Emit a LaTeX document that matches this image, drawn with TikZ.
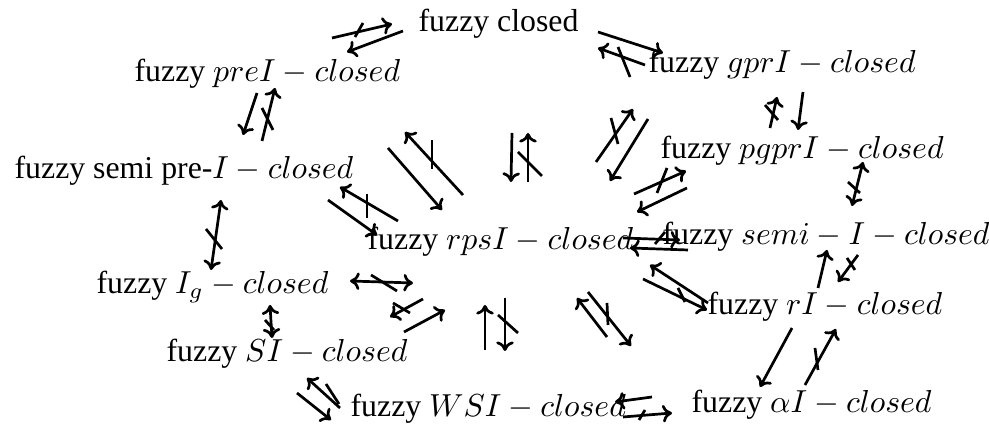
\documentclass[tikz,border=0pt]{standalone}
\usepackage[no-math]{fontspec}
\setmainfont{Liberation Serif}
\usetikzlibrary{arrows.meta}
\tikzset{
  arr/.style={line width=0.85pt,-{To[length=3pt,width=5.5pt]}},
  darr/.style={line width=0.85pt,{To[length=3pt,width=5.5pt]}-{To[length=3pt,width=5.5pt]}},
  nx/.style={line width=0.85pt},
  lbl/.style={anchor=base west,inner sep=0pt,font=\fontsize{10}{12}\selectfont}
}
\begin{document}
\begin{tikzpicture}[x=0.3144pt,y=-0.3144pt]
\useasboundingbox (0,0) rectangle (989,425);
% nodes
\node[lbl] (fc)   at (418,32)  {fuzzy closed};
\node[lbl] (pre)  at (134,82)  {fuzzy $preI-closed$};
\node[lbl] (gpr)  at (648,73)  {fuzzy $gprI-closed$};
\node[lbl] (spre) at (14,179)  {fuzzy semi pre-$I-closed$};
\node[lbl] (pgpr) at (660,159) {fuzzy $pgprI-closed$};
\node[lbl] (rps)  at (367,250) {fuzzy $rpsI-closed$};
\node[lbl] (semi) at (662,245) {fuzzy $semi-I-closed$};
\node[lbl] (ig)   at (96,294)  {fuzzy $I_g-closed$};
\node[lbl] (ri)   at (707,315) {fuzzy $rI-closed$};
\node[lbl] (si)   at (166,362) {fuzzy $SI-closed$};
\node[lbl] (wsi)  at (350,417) {fuzzy $WSI-closed$};
\node[lbl] (ai)   at (691,413) {fuzzy $\alpha I-closed$};
% arrows
% pre <-> closed
\draw[arr] (332,38) -- (392,24);  \draw[nx] (355,37) -- (363,23);
\draw[arr] (403,31) -- (347,52);
% closed <-> gpr
\draw[arr] (598,32) -- (663,53);
\draw[arr] (645,65) -- (598,48);  \draw[nx] (618,47) -- (630,77);
% pre <-> semi pre
\draw[arr] (257,93) -- (243,135);
\draw[arr] (262,141) -- (275,88); \draw[nx] (262,108) -- (273,130);
% semi pre <-> Ig
\draw[darr] (221,200) -- (211,270); \draw[nx] (206,229) -- (222,249);
% semi pre <-> rps
\draw[arr] (398,221) -- (340,187); \draw[nx] (367,194) -- (367,218);
\draw[arr] (328,200) -- (377,235);
% pre <-> rps
\draw[arr] (388,148) -- (442,210);
\draw[arr] (463,195) -- (405,132); \draw[nx] (432,140) -- (432,169);
% closed <-> rps
\draw[arr] (512,133) -- (511,182);
\draw[arr] (528,182) -- (528,133); \draw[nx] (518,152) -- (542,176);
% gpr <-> rps
\draw[arr] (596,162) -- (633,109); \draw[nx] (611,118) -- (618,144);
\draw[arr] (648,119) -- (610,181);
% pgpr <-> rps
\draw[arr] (634,194) -- (686,171); \draw[nx] (657,193) -- (667,168);
\draw[arr] (687,188) -- (637,212);
% gpr <-> pgpr
\draw[arr] (803,92) -- (798,130);
\draw[arr] (770,128) -- (777,97); \draw[nx] (765,105) -- (778,120);
% pgpr <-> semi
\draw[darr] (863,162) -- (852,206); \draw[nx] (848,182) -- (860,193);
% rps <-> semi
\draw[arr] (623,238) -- (680,240); \draw[nx] (655,244) -- (665,232);
\draw[arr] (688,250) -- (630,248);
% rps <-> rI
\draw[arr] (643,279) -- (707,310); \draw[nx] (678,288) -- (685,302);
\draw[arr] (708,303) -- (650,265);
% semi <-> rI
\draw[arr] (818,288) -- (827,250);
\draw[arr] (858,255) -- (838,282); \draw[nx] (847,258) -- (855,270);
% rps <-> WSI
\draw[arr] (485,350) -- (485,305);
\draw[arr] (505,298) -- (505,351); \draw[nx] (498,315) -- (518,333);
% rps <-> alpha
\draw[arr] (607,337) -- (577,298);
\draw[arr] (588,292) -- (631,346); \draw[nx] (607,303) -- (608,325);
% rI <-> alpha
\draw[arr] (792,328) -- (760,387);
\draw[arr] (805,385) -- (836,329); \draw[nx] (815,348) -- (818,370);
% WSI <-> alpha
\draw[arr] (652,397) -- (615,402);
\draw[arr] (623,417) -- (672,413); \draw[nx] (639,420) -- (645,410);
% Ig <-> rps
\draw[darr] (350,281) -- (413,283); \draw[nx] (371,275) -- (397,291);
% SI <-> rps
\draw[arr] (423,299) -- (390,317); \draw[nx] (393,303) -- (410,313);
\draw[arr] (404,332) -- (445,310);
% Ig <-> SI
\draw[darr] (270,305) -- (272,338); \draw[nx] (265,320) -- (274,330);
% SI <-> WSI
\draw[arr] (297,393) -- (331,420);
\draw[arr] (340,408) -- (307,378); \draw[nx] (326,384) -- (339,404);
\end{tikzpicture}
\end{document}
